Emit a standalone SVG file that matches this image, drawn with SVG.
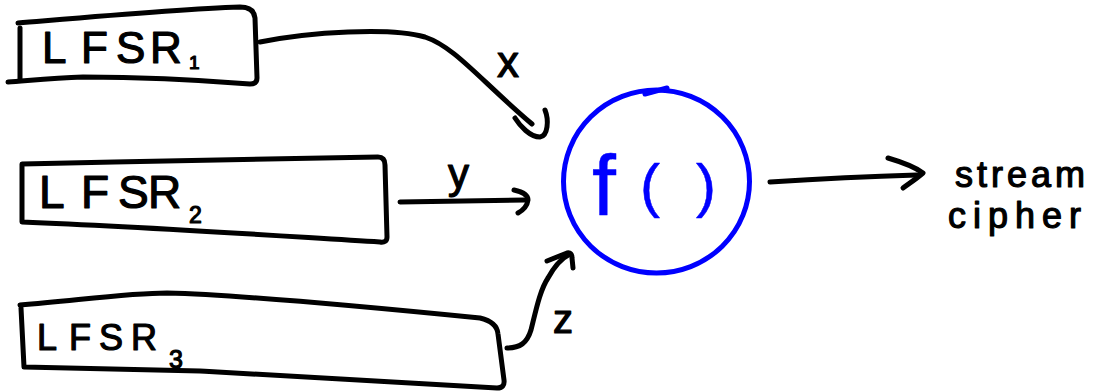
<svg xmlns="http://www.w3.org/2000/svg" width="1096" height="391" viewBox="0 0 1096 391">
  <style>
    .ink { fill: none; stroke: #000; stroke-width: 5; stroke-linecap: round; stroke-linejoin: round; }
    .blue { fill: none; stroke: #0000ff; stroke-width: 5; stroke-linecap: round; stroke-linejoin: round; }
    .lbl { font-family: "Liberation Sans", Arial, sans-serif; fill: #000; stroke: #000; stroke-width: 1.2; stroke-linejoin: round; }
    .fn { font-family: "Liberation Sans", Arial, sans-serif; fill: #0000ff; stroke: #0000ff; stroke-width: 0.5; stroke-linejoin: round; }
  </style>
  <rect width="1096" height="391" fill="#fff"/>

  <g id="lfsr1">
    <path class="ink" d="M20,28 L20,80"/>
    <path class="ink" d="M18,23 C90,17 180,9 240,7 Q254,7 255,18 L257,78 Q257,84 250,84 C200,80 130,77 83,77 C50,78 25,81 8,82"/>
    <text class="lbl" font-size="44"><tspan x="42 81 116 150" y="63">LFSR</tspan><tspan x="189" y="69" font-size="19">1</tspan></text>
  </g>

  <g id="lfsr2">
    <path class="ink" d="M22,222 L22,164 C150,161 300,158 378,157 Q385,157 385,165 L387,237 Q387,243 380,242 C280,236 150,227 22,222 Z"/>
    <text class="lbl" font-size="46"><tspan x="39 81 118 148" y="208">LFSR</tspan><tspan x="189" y="223" font-size="23">2</tspan></text>
  </g>

  <g id="lfsr3">
    <path class="ink" d="M20,305 C80,300 130,293 167,293 C250,295 400,310 480,318 Q497,322 498,334 L504,380 Q505,388 497,388 C400,382 300,376 200,371 L24,367 L21,308"/>
    <text class="lbl" font-size="36"><tspan x="37 69 99 131" y="350">LFSR</tspan><tspan x="169" y="368" font-size="25">3</tspan></text>
  </g>

  <g id="f">
    <ellipse class="blue" cx="656.5" cy="181.5" rx="93" ry="91.5"/>
    <path class="blue" d="M645,94 L667,88"/>
    <text class="fn"><tspan x="592" y="215" font-size="86">f</tspan><tspan x="640" y="206" font-size="60">( </tspan><tspan x="696" y="206" font-size="60">)</tspan></text>
  </g>

  <g id="output">
    <text class="lbl" font-size="36" letter-spacing="4" x="955" y="187">stream</text>
    <text class="lbl" font-size="36" letter-spacing="7" x="948" y="228">cipher</text>
  </g>

  <g id="connectors">
    <path class="ink" d="M260,42 C310,32 390,27 425,37 C455,47 480,80 532,124"/>
    <path class="ink" d="M515,118 C520,126 530,137 540,137 C548,136 549,120 545,110"/>
    <text class="lbl" font-size="44" x="497" y="77">x</text>

    <path class="ink" d="M400,202 L525,200"/>
    <path class="ink" d="M514,190 Q528,193 528,200 Q527,208 518,213"/>
    <text class="lbl" font-size="42" x="448" y="188">y</text>

    <path class="ink" d="M507,348 C520,348 527,343 531,330 C536,310 540,290 548,278 C555,265 562,258 570,254"/>
    <path class="ink" d="M547,261 L567,253 Q572,252 572,258 L573,268"/>
    <text class="lbl" font-size="40" x="553" y="333">z</text>

    <path class="ink" d="M770,182 C830,178 880,176 917,175"/>
    <path class="ink" d="M888,158 C905,163 915,167 923,173 C915,180 908,184 903,188"/>
  </g>
</svg>
